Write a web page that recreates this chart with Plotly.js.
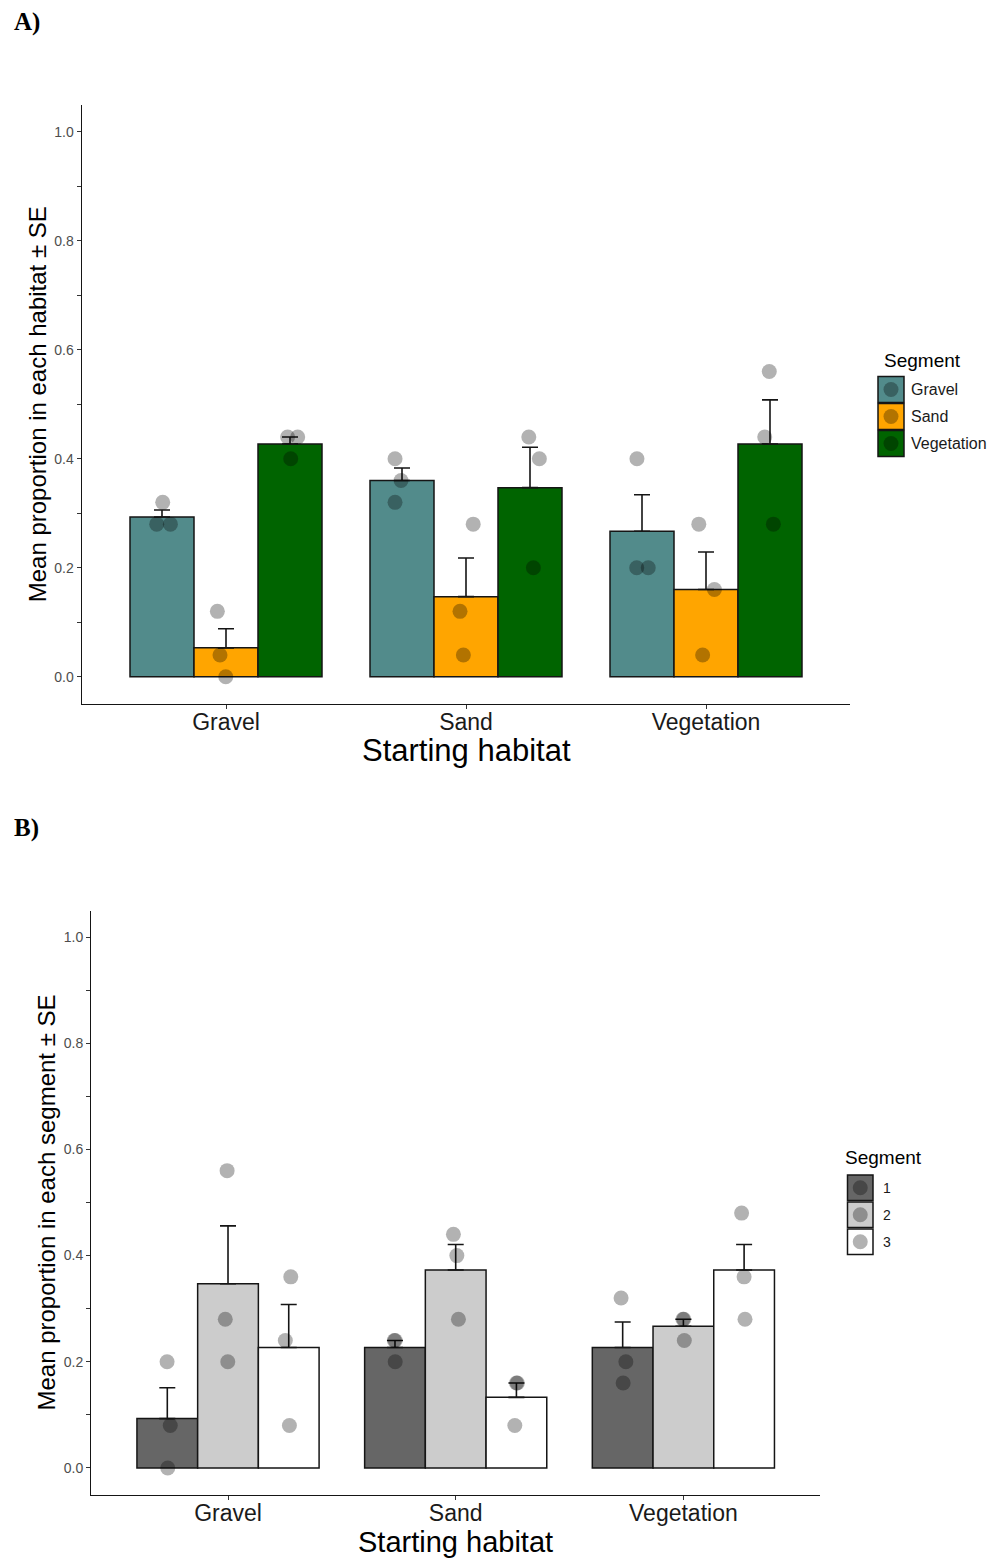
<!DOCTYPE html>
<html><head><meta charset="utf-8">
<script src="https://cdn.plot.ly/plotly-3.0.1.min.js"></script>
<style>html,body{margin:0;padding:0;background:#fff}#chart{width:987px;height:1561px}</style>
</head><body><div id="chart"></div>
<script>
// ---------- DATA ----------
const habitats = ['Gravel', 'Sand', 'Vegetation'];

// Panel A: mean proportion in each habitat (segment type) by starting habitat
const segNamesA = ['Gravel', 'Sand', 'Vegetation'];
const meanA_gravel = [0.293, 0.360, 0.267];
const meanA_sand   = [0.053, 0.147, 0.160];
const meanA_veg    = [0.427, 0.347, 0.427];
const seA_gravel   = [0.013, 0.023, 0.067];
const seA_sand     = [0.035, 0.071, 0.069];
const seA_veg      = [0.013, 0.074, 0.081];
// individual replicate points [starting habitat][replicate]
const ptsA_gravel = [[0.32, 0.28, 0.28], [0.40, 0.36, 0.32], [0.40, 0.20, 0.20]];
const ptsA_sand   = [[0.12, 0.04, 0.00], [0.28, 0.12, 0.04], [0.28, 0.16, 0.04]];
const ptsA_veg    = [[0.44, 0.44, 0.40], [0.44, 0.40, 0.20], [0.56, 0.44, 0.28]];
// horizontal jitter of the points (category units)
const jitA_gravel = [[0.003, -0.022, 0.035], [-0.029, -0.004, -0.029], [-0.021, -0.022, 0.026]];
const jitA_sand   = [[-0.036, -0.025, -0.001], [0.030, -0.025, -0.011], [-0.030, 0.035, -0.014]];
const jitA_veg    = [[-0.010, 0.032, 0.003], [-0.005, 0.039, 0.014], [-0.003, -0.022, 0.014]];

// Panel B: mean proportion in each segment by starting habitat
const segNamesB = ['1', '2', '3'];
const meanB_1 = [0.093, 0.227, 0.227];
const meanB_2 = [0.347, 0.373, 0.267];
const meanB_3 = [0.227, 0.133, 0.373];
const seB_1   = [0.058, 0.013, 0.048];
const seB_2   = [0.109, 0.048, 0.013];
const seB_3   = [0.081, 0.027, 0.048];
const ptsB_1 = [[0.20, 0.08, 0.00], [0.24, 0.24, 0.20], [0.32, 0.20, 0.16]];
const ptsB_2 = [[0.56, 0.28, 0.20], [0.44, 0.40, 0.28], [0.28, 0.28, 0.24]];
const ptsB_3 = [[0.36, 0.24, 0.08], [0.16, 0.16, 0.08], [0.48, 0.36, 0.28]];
const jitB_1 = [[-0.001, 0.013, 0.002], [-0.003, 0.001, 0.001], [-0.007, 0.014, 0.002]];
const jitB_2 = [[-0.004, -0.012, -0.001], [-0.010, 0.005, 0.012], [-0.002, 0.002, 0.004]];
const jitB_3 = [[0.009, -0.015, 0.003], [0.000, 0.004, -0.007], [-0.011, 0.000, 0.004]];

const yTickVals = [0, 0.1, 0.2, 0.3, 0.4, 0.5, 0.6, 0.7, 0.8, 0.9, 1.0];
const yTickText = ['0.0', '', '0.2', '', '0.4', '', '0.6', '', '0.8', '', '1.0'];
const xTitle = 'Starting habitat';

// ---------- STYLE ----------
const W = 987, H = 1561;
const FONT = 'Liberation Sans, Arial, sans-serif';
const colorsA = ['#528B8B', '#FFA500', '#006400'];
const colorsB = ['#666666', '#CCCCCC', '#FFFFFF'];
const PT_COLOR = 'rgba(0,0,0,0.3)';
const BAR_W = 0.8;
const px = x => x / W;
const py = y => 1 - y / H;

const traces = [];
function addPanel(xa, ya, names, means, ses, pts, jits, colors) {
  const n = names.length;
  names.forEach((nm, i) => {
    traces.push({
      type: 'bar', name: nm, x: habitats.map((h, k) => k), y: means[i],
      xaxis: xa, yaxis: ya, showlegend: false,
      marker: {color: colors[i], line: {color: '#151515', width: 1.5}},
      error_y: {type: 'data', symmetric: false, array: ses[i], arrayminus: [0, 0, 0],
                color: '#151515', thickness: 1.6, width: 8}
    });
  });
  names.forEach((nm, i) => {
    const off = (i - (n - 1) / 2) * BAR_W / n;
    const xs = [], ys = [];
    pts[i].forEach((row, k) => row.forEach((v, j) => { xs.push(k + off + jits[i][k][j]); ys.push(v); }));
    traces.push({
      type: 'scatter', mode: 'markers', x: xs, y: ys, xaxis: xa, yaxis: ya, showlegend: false,
      marker: {size: 15, color: PT_COLOR, line: {width: 0}}, cliponaxis: false, hoverinfo: 'y'
    });
  });
}
addPanel('x', 'y', segNamesA, [meanA_gravel, meanA_sand, meanA_veg], [seA_gravel, seA_sand, seA_veg],
         [ptsA_gravel, ptsA_sand, ptsA_veg], [jitA_gravel, jitA_sand, jitA_veg], colorsA);
addPanel('x2', 'y2', segNamesB, [meanB_1, meanB_2, meanB_3], [seB_1, seB_2, seB_3],
         [ptsB_1, ptsB_2, ptsB_3], [jitB_1, jitB_2, jitB_3], colorsB);

function xAxis(domain, anchor) {
  return {
    domain: domain, anchor: anchor, range: [-0.6, 2.6],
    tickvals: [0, 1, 2], ticktext: habitats, ticks: 'outside', ticklen: 4, tickwidth: 1, tickcolor: '#333',
    ticklabelstandoff: -7,
    showline: true, linecolor: '#151515', linewidth: 1.4, showgrid: false, zeroline: false,
    tickfont: {family: FONT, size: 23, color: '#1a1a1a'}
  };
}
function yAxis(domain, anchor, title) {
  return {
    domain: domain, anchor: anchor, range: [-0.05, 1.05],
    tickvals: yTickVals, ticktext: yTickText, ticks: 'outside', ticklen: 4, tickwidth: 1, tickcolor: '#333',
    showline: true, linecolor: '#151515', linewidth: 1.4, showgrid: false, zeroline: false,
    tickfont: {family: FONT, size: 14, color: '#4d4d4d'},
    title: {text: title, font: {family: FONT, size: 24, color: '#000'}, standoff: 1}
  };
}

// manual legends
const shapes = [], annotations = [];
function legend(titleX, titleY, titleSize, keyX, keyTops, keySize, labelX, labels, labelSize, colors) {
  annotations.push({xref: 'paper', yref: 'paper', x: px(titleX), y: py(titleY), xanchor: 'left', yanchor: 'middle',
    text: 'Segment', showarrow: false, font: {family: FONT, size: titleSize, color: '#000'}});
  keyTops.forEach((t, i) => {
    shapes.push({type: 'rect', xref: 'paper', yref: 'paper', x0: px(keyX), x1: px(keyX + keySize),
      y0: py(t), y1: py(t + keySize), fillcolor: colors[i], line: {color: '#151515', width: 1.5}});
    const cx = keyX + keySize / 2, cy = t + keySize / 2, r = 7.5;
    shapes.push({type: 'circle', xref: 'paper', yref: 'paper', x0: px(cx - r), x1: px(cx + r),
      y0: py(cy - r), y1: py(cy + r), fillcolor: PT_COLOR, line: {width: 0}});
    annotations.push({xref: 'paper', yref: 'paper', x: px(labelX), y: py(cy), xanchor: 'left', yanchor: 'middle',
      text: labels[i], showarrow: false, font: {family: FONT, size: labelSize, color: '#1a1a1a'}});
  });
}
legend(882, 360, 19, 878, [376.5, 403.5, 430.5], 26, 908.5, segNamesA, 16, colorsA);
legend(843, 1157, 19, 847.5, [1175, 1202, 1229], 25.5, 881, segNamesB, 14, colorsB);

// x-axis titles (placed tightly under the tick labels as in the reference)
annotations.push({xref: 'paper', yref: 'paper', x: px(466), y: py(750), xanchor: 'center', yanchor: 'middle',
  text: xTitle, showarrow: false, font: {family: FONT, size: 31, color: '#000'}});
annotations.push({xref: 'paper', yref: 'paper', x: px(455.7), y: py(1542), xanchor: 'center', yanchor: 'middle',
  text: xTitle, showarrow: false, font: {family: FONT, size: 29, color: '#000'}});

annotations.push({xref: 'paper', yref: 'paper', x: px(12), y: py(22), xanchor: 'left', yanchor: 'middle',
  text: '<b>A)</b>', showarrow: false, font: {family: 'Liberation Serif, Times New Roman, serif', size: 25, color: '#000'}});
annotations.push({xref: 'paper', yref: 'paper', x: px(12), y: py(828), xanchor: 'left', yanchor: 'middle',
  text: '<b>B)</b>', showarrow: false, font: {family: 'Liberation Serif, Times New Roman, serif', size: 25, color: '#000'}});

const layout = {
  width: W, height: H, margin: {l: 0, r: 0, t: 0, b: 0},
  paper_bgcolor: '#fff', plot_bgcolor: '#fff', showlegend: false,
  barmode: 'group', bargap: 1 - BAR_W, bargroupgap: 0,
  font: {family: FONT},
  xaxis: xAxis([px(82), px(850)], 'y'),
  yaxis: yAxis([py(704), py(104.5)], 'x', 'Mean proportion in each habitat ± SE'),
  xaxis2: xAxis([px(91.4), px(820)], 'y2'),
  yaxis2: yAxis([py(1494.5), py(910.5)], 'x2', 'Mean proportion in each segment ± SE'),
  shapes: shapes, annotations: annotations
};
Plotly.newPlot('chart', traces, layout, {staticPlot: true, displayModeBar: false});
</script></body></html>
